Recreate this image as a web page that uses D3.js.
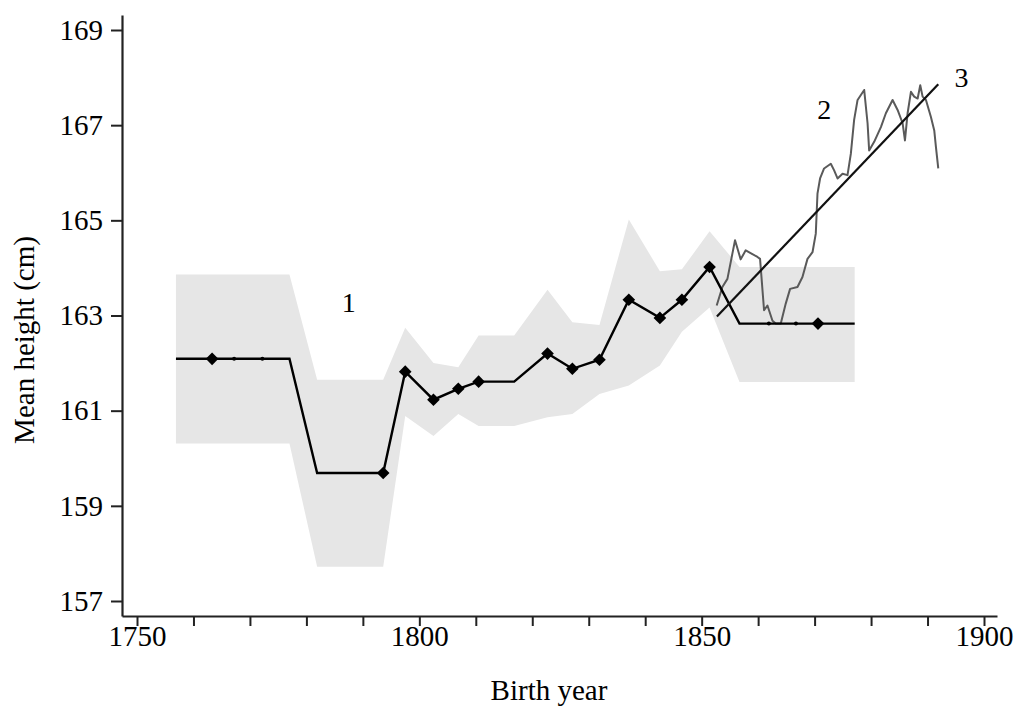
<!DOCTYPE html>
<html lang="en">
<head>
<meta charset="UTF-8">
<title>Mean height by birth year</title>
<script src="https://d3js.org/d3.v7.min.js"></script>
<style>
  body { margin: 0; background: #fff; }
  svg text { font-family: "Liberation Serif", "DejaVu Serif", serif; fill: #000; }
</style>
</head>
<body>
<div id="chart"></div>
<script>
// series 1: mean height per cohort (line with markers), with confidence band
var s1Years  = [1756.9, 1763.3, 1777.0, 1781.9, 1793.6, 1797.5, 1802.5, 1806.9, 1810.5, 1816.8, 1822.7, 1827.1, 1831.9, 1837.1, 1842.6, 1846.5, 1851.4, 1856.7, 1870.6, 1877.1];
var s1Values = [162.09, 162.09, 162.09, 159.69, 159.69, 161.82, 161.23, 161.46, 161.61, 161.61, 162.20, 161.88, 162.07, 163.33, 162.95, 163.33, 164.02, 162.83, 162.83, 162.83];
var s1Marker = [0, 1, 0, 0, 1, 1, 1, 1, 1, 0, 1, 1, 1, 1, 1, 1, 1, 0, 1, 0];
var bandUpper = [163.86, 163.86, 163.86, 161.65, 161.65, 162.74, 162.00, 161.91, 162.58, 162.58, 163.54, 162.86, 162.80, 165.02, 163.93, 163.97, 164.77, 164.02, 164.02, 164.02];
var bandLower = [160.31, 160.31, 160.31, 157.72, 157.72, 160.89, 160.47, 160.93, 160.68, 160.68, 160.86, 160.93, 161.35, 161.53, 161.95, 162.66, 163.17, 161.60, 161.60, 161.60];
var s1SmallDots = [1767.2, 1772.2, 1861.9, 1866.7];

// series 2: annual series
var s2Years  = [1852.66, 1853.67, 1854.56, 1855.44, 1855.91, 1856.91, 1857.80, 1859.88, 1860.34, 1861.05, 1861.65, 1862.54, 1863.12, 1864.01, 1864.89, 1865.66, 1866.97, 1867.85, 1868.74, 1869.63, 1870.21, 1870.51, 1870.97, 1871.68, 1872.87, 1873.46, 1874.06, 1874.95, 1875.83, 1876.42, 1877.00, 1877.61, 1878.78, 1879.38, 1879.66, 1880.55, 1881.74, 1882.62, 1883.81, 1884.70, 1885.59, 1886.00, 1886.47, 1887.06, 1887.64, 1888.25, 1888.71, 1889.13, 1889.72, 1890.60, 1891.19, 1891.49, 1891.90];
var s2Values = [163.21, 163.60, 163.77, 164.30, 164.58, 164.18, 164.37, 164.23, 164.19, 163.11, 163.21, 162.89, 162.83, 162.83, 163.25, 163.56, 163.60, 163.81, 164.19, 164.33, 164.72, 165.56, 165.88, 166.09, 166.19, 166.05, 165.88, 165.98, 165.95, 166.40, 167.11, 167.53, 167.74, 167.04, 166.47, 166.65, 166.96, 167.25, 167.53, 167.32, 167.04, 166.68, 167.25, 167.70, 167.60, 167.56, 167.84, 167.60, 167.53, 167.17, 166.89, 166.54, 166.09];

// series 3: linear trend
var s3Years  = [1852.7, 1891.9];
var s3Values = [162.98, 167.86];

// series labels
var labelText   = ["1", "2", "3"];
var labelYears  = [1787.5, 1871.7, 1896.0];
var labelValues = [163.07, 167.13, 167.8];

var yTicks = [157, 159, 161, 163, 165, 167, 169];
var xTicks = d3.range(1750, 1901, 10);
var xLabels = [1750, 1800, 1850, 1900];

var width = 1017, height = 706;
var pxPerYear = (984 - 137) / 150, pxPerCm = 571 / 12;

var x = d3.scaleLinear()
  .domain([1750 - 15 / pxPerYear, 1900 + 13 / pxPerYear])
  .range([122, 997]);
var y = d3.scaleLinear()
  .domain([157 - 15 / pxPerCm, 169 + 15 / pxPerCm])
  .range([616, 15]);

var svg = d3.select("#chart").append("svg")
  .attr("width", width)
  .attr("height", height);

// band
var band = s1Years.map(function(d, i) { return {x: d, lo: bandLower[i], hi: bandUpper[i]}; });
svg.append("path")
  .datum(band)
  .attr("fill", "#e6e6e6")
  .attr("d", d3.area()
    .x(function(d) { return x(d.x); })
    .y0(function(d) { return y(d.lo); })
    .y1(function(d) { return y(d.hi); }));

// series 2
var s2 = s2Years.map(function(d, i) { return [d, s2Values[i]]; });
svg.append("path")
  .datum(s2)
  .attr("fill", "none")
  .attr("stroke", "#5a5a5a")
  .attr("stroke-width", 2)
  .attr("stroke-linejoin", "round")
  .attr("d", d3.line().x(function(d) { return x(d[0]); }).y(function(d) { return y(d[1]); }));

// series 1 line
var s1 = s1Years.map(function(d, i) { return [d, s1Values[i], s1Marker[i]]; });
svg.append("path")
  .datum(s1)
  .attr("fill", "none")
  .attr("stroke", "#000")
  .attr("stroke-width", 2.4)
  .attr("d", d3.line().x(function(d) { return x(d[0]); }).y(function(d) { return y(d[1]); }));

// series 3
var s3 = s3Years.map(function(d, i) { return [d, s3Values[i]]; });
svg.append("path")
  .datum(s3)
  .attr("fill", "none")
  .attr("stroke", "#111")
  .attr("stroke-width", 2.2)
  .attr("d", d3.line().x(function(d) { return x(d[0]); }).y(function(d) { return y(d[1]); }));

// diamond markers
var diamond = d3.symbol().type(d3.symbolSquare).size(80);
svg.selectAll(".mk")
  .data(s1.filter(function(d) { return d[2]; }))
  .enter().append("path")
  .attr("class", "mk")
  .attr("d", diamond)
  .attr("fill", "#000")
  .attr("transform", function(d) { return "translate(" + x(d[0]) + "," + y(d[1]) + ") rotate(45)"; });

// small dots sitting on the flat parts of series 1
var flatValue = d3.scaleThreshold().domain([1800]).range([s1Values[0], s1Values[s1Values.length - 1]]);
svg.selectAll(".dot")
  .data(s1SmallDots)
  .enter().append("circle")
  .attr("r", 2)
  .attr("fill", "#000")
  .attr("cx", function(d) { return x(d); })
  .attr("cy", function(d) { return y(flatValue(d)); });

// axes
var yAxis = svg.append("g")
  .attr("transform", "translate(122,0)")
  .call(d3.axisLeft(y).tickValues(yTicks).tickSize(11).tickSizeOuter(0).tickPadding(8));
var xAxis = svg.append("g")
  .attr("transform", "translate(0,616)")
  .call(d3.axisBottom(x).tickValues(xTicks).tickSize(10).tickSizeOuter(0).tickPadding(-1)
    .tickFormat(function(d) { return xLabels.indexOf(d) >= 0 ? d : ""; }));

[yAxis, xAxis].forEach(function(g) {
  g.select(".domain").attr("stroke", "#222").attr("stroke-width", 2.2);
  g.selectAll(".tick line").attr("stroke", "#222").attr("stroke-width", 2);
  g.selectAll(".tick text").style("font-size", "29px").style("font-family", "'Liberation Serif', serif").attr("fill", "#000");
});

// axis titles
svg.append("text")
  .attr("x", 549).attr("y", 700)
  .attr("text-anchor", "middle")
  .style("font-size", "29px")
  .text("Birth year");
svg.append("text")
  .attr("transform", "translate(34,340) rotate(-90)")
  .attr("text-anchor", "middle")
  .style("font-size", "29px")
  .text("Mean height (cm)");

// series labels
svg.selectAll(".lbl")
  .data(labelText)
  .enter().append("text")
  .attr("class", "lbl")
  .attr("x", function(d, i) { return x(labelYears[i]); })
  .attr("y", function(d, i) { return y(labelValues[i]); })
  .attr("text-anchor", "middle")
  .style("font-size", "28px")
  .text(function(d) { return d; });
</script>
</body>
</html>
